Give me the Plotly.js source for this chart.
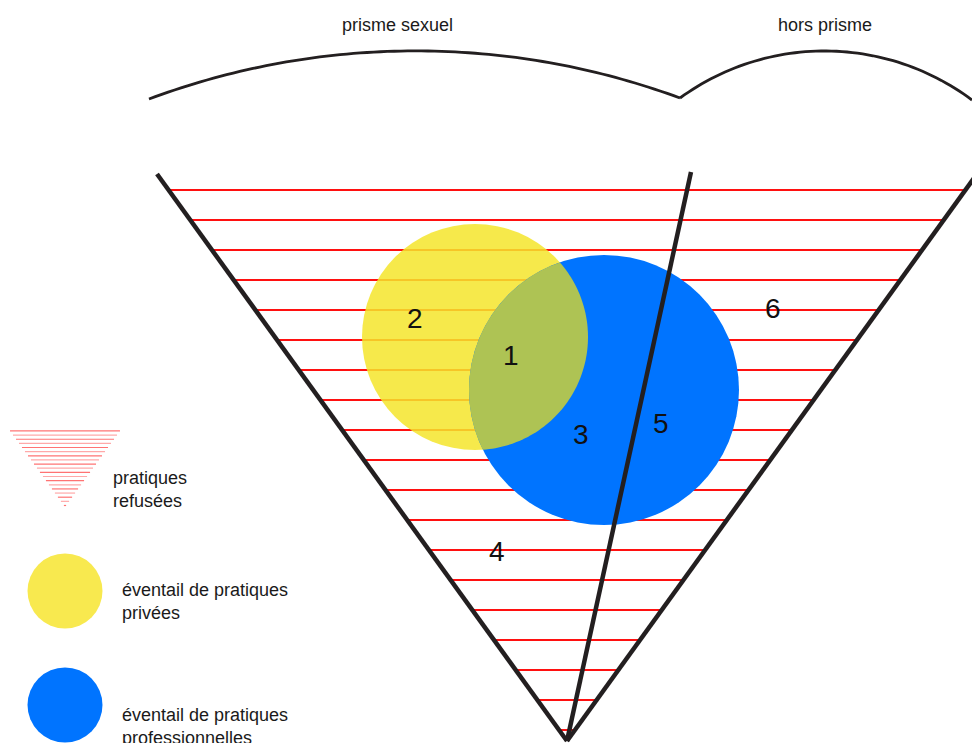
<!DOCTYPE html>
<html><head><meta charset="utf-8">
<script src="https://cdn.plot.ly/plotly-3.0.1.min.js"></script>
<style>html,body{margin:0;padding:0;background:#fff;}#chart{width:972px;height:743px;}</style>
</head><body><div id="chart"></div>
<script>
// ---- data (diagram geometry, in picture units) ----
const headerLabels = ['prisme sexuel', 'hors prisme'];
const headerX = [397, 825];
const headerY = [25, 25];
const arcLeftPts = [[149, 99], [405, 51], [680, 98]];
const arcRightPts = [[680, 98], [821, 51], [972, 100]];
const apex = [567, 741];
const leftTop = [157, 174];
const rightTop = [977, 174];
const dividerTop = [691, 172];
const stripeY = [190, 220, 250, 280, 310, 340, 370, 400, 430, 460, 490, 520, 550, 580, 610, 640, 670, 700, 730];
const circleNames = ['privées', 'professionnelles'];
const circleCx = [475, 604];
const circleCy = [337, 390];
const circleR = [113, 135];
const circleColors = ['#F5E52C', '#0074FF'];
const legendYellow = '#F8E94F';
const overlapColor = '#AEC354';
const zoneLabels = ['1', '2', '3', '4', '5', '6'];
const zoneX = [511, 415, 581, 497, 661, 773];
const zoneY = [355, 318, 434, 551, 423, 308];
const legendLabels = ['pratiques<br>refusées', 'éventail de pratiques<br>privées', 'éventail de pratiques<br>professionnelles'];
const legendTextX = [111, 120, 120];
const legendTextY = [489, 601, 726];
const legendMarkX = [65, 65, 65];
const legendMarkY = [507, 591, 705];
const legendCircleR = 37.5;
const legendScale = 0.138;

// ---- helpers ----
function circleThrough(p1, p2, p3) {
  const [ax, ay] = p1, [bx, by] = p2, [cx, cy] = p3;
  const d = 2 * (ax * (by - cy) + bx * (cy - ay) + cx * (ay - by));
  const ux = ((ax*ax + ay*ay) * (by - cy) + (bx*bx + by*by) * (cy - ay) + (cx*cx + cy*cy) * (ay - by)) / d;
  const uy = ((ax*ax + ay*ay) * (cx - bx) + (bx*bx + by*by) * (ax - cx) + (cx*cx + cy*cy) * (bx - ax)) / d;
  return [ux, uy, Math.hypot(ax - ux, ay - uy)];
}
function arcPath(pts, n) {
  const [ux, uy, r] = circleThrough(pts[0], pts[1], pts[2]);
  let a0 = Math.atan2(pts[0][1] - uy, pts[0][0] - ux);
  let a1 = Math.atan2(pts[1][1] - uy, pts[1][0] - ux);
  let a2 = Math.atan2(pts[2][1] - uy, pts[2][0] - ux);
  const norm = a => { while (a < a0) a += 2 * Math.PI; return a; };
  let m = norm(a1), e = norm(a2);
  if (m > e) e -= 2 * Math.PI;
  let s = '';
  for (let i = 0; i <= n; i++) {
    const a = a0 + (e - a0) * i / n;
    s += (i ? ' L' : 'M') + (ux + r * Math.cos(a)).toFixed(2) + ',' + (uy + r * Math.sin(a)).toFixed(2);
  }
  return s;
}
function xOnLine(top, y) {
  return apex[0] + (y - apex[1]) * (top[0] - apex[0]) / (top[1] - apex[1]);
}
function lensPath(n) {
  const [x0, y0, r0] = [circleCx[0], circleCy[0], circleR[0]];
  const [x1, y1, r1] = [circleCx[1], circleCy[1], circleR[1]];
  const d = Math.hypot(x1 - x0, y1 - y0);
  const base = Math.atan2(y1 - y0, x1 - x0);
  const h0 = Math.acos((d*d + r0*r0 - r1*r1) / (2 * d * r0));
  const base1 = Math.atan2(y0 - y1, x0 - x1);
  const h1 = Math.acos((d*d + r1*r1 - r0*r0) / (2 * d * r1));
  let s = '';
  for (let i = 0; i <= n; i++) {
    const a = base - h0 + 2 * h0 * i / n;
    s += (i ? ' L' : 'M') + (x0 + r0 * Math.cos(a)).toFixed(2) + ',' + (y0 + r0 * Math.sin(a)).toFixed(2);
  }
  for (let i = 0; i <= n; i++) {
    const a = base1 - h1 + 2 * h1 * i / n;
    s += ' L' + (x1 + r1 * Math.cos(a)).toFixed(2) + ',' + (y1 + r1 * Math.sin(a)).toFixed(2);
  }
  return s + ' Z';
}

const shapes = [];
stripeY.forEach(y => {
  shapes.push({type: 'line', xref: 'x', yref: 'y', x0: xOnLine(leftTop, y) + 1, x1: xOnLine(rightTop, y) - 1, y0: y, y1: y,
    line: {color: '#FF1010', width: 2}});
});
shapes.push({type: 'circle', xref: 'x', yref: 'y', x0: circleCx[0] - circleR[0], x1: circleCx[0] + circleR[0],
  y0: circleCy[0] - circleR[0], y1: circleCy[0] + circleR[0], fillcolor: circleColors[0], opacity: 0.85, line: {width: 0}});
shapes.push({type: 'circle', xref: 'x', yref: 'y', x0: circleCx[1] - circleR[1], x1: circleCx[1] + circleR[1],
  y0: circleCy[1] - circleR[1], y1: circleCy[1] + circleR[1], fillcolor: circleColors[1], line: {width: 0}});
shapes.push({type: 'path', xref: 'x', yref: 'y', path: lensPath(80), fillcolor: overlapColor, line: {width: 0}});
const black = '#231F20';
shapes.push({type: 'line', xref: 'x', yref: 'y', x0: apex[0], y0: apex[1], x1: leftTop[0], y1: leftTop[1], line: {color: black, width: 4.5}});
shapes.push({type: 'line', xref: 'x', yref: 'y', x0: apex[0], y0: apex[1], x1: rightTop[0], y1: rightTop[1], line: {color: black, width: 4.5}});
shapes.push({type: 'line', xref: 'x', yref: 'y', x0: apex[0], y0: apex[1], x1: dividerTop[0], y1: dividerTop[1], line: {color: black, width: 4.5}});
shapes.push({type: 'path', xref: 'x', yref: 'y', path: arcPath(arcLeftPts, 80), line: {color: black, width: 2.8}});
shapes.push({type: 'path', xref: 'x', yref: 'y', path: arcPath(arcRightPts, 60), line: {color: black, width: 2.8}});

stripeY.forEach((y, i) => {
  const yy = legendMarkY[0] + (y - apex[1]) * legendScale;
  const xl = legendMarkX[0] + (xOnLine(leftTop, y) - apex[0]) * legendScale;
  const xr = legendMarkX[0] + (xOnLine(rightTop, y) - apex[0]) * legendScale;
  shapes.push({type: 'line', xref: 'x', yref: 'y', x0: xl, x1: xr, y0: yy, y1: yy,
    line: {color: i % 2 ? 'rgba(255,40,40,0.4)' : 'rgba(255,40,40,0.65)', width: 1.2}});
});
[1, 2].forEach((k, i) => {
  shapes.push({type: 'circle', xref: 'x', yref: 'y', x0: legendMarkX[k] - legendCircleR, x1: legendMarkX[k] + legendCircleR,
    y0: legendMarkY[k] - legendCircleR, y1: legendMarkY[k] + legendCircleR, fillcolor: i ? circleColors[1] : legendYellow, line: {width: 0}});
});

const font = 'Liberation Sans, Arial, sans-serif';
const annotations = [];
headerLabels.forEach((t, i) => annotations.push({x: headerX[i], y: headerY[i], xref: 'x', yref: 'y', text: t, showarrow: false,
  xanchor: 'center', yanchor: 'middle', font: {family: font, size: 18, color: '#1a1a1a'}}));
zoneLabels.forEach((t, i) => annotations.push({x: zoneX[i], y: zoneY[i], xref: 'x', yref: 'y', text: t, showarrow: false,
  xanchor: 'center', yanchor: 'middle', font: {family: font, size: 28, color: '#111'}}));
legendLabels.forEach((t, i) => annotations.push({x: legendTextX[i], y: legendTextY[i], xref: 'x', yref: 'y', text: t, showarrow: false,
  xanchor: 'left', yanchor: 'middle', align: 'left', font: {family: font, size: 18, color: '#1a1a1a'}}));

const layout = {
  width: 972, height: 743,
  margin: {l: 0, r: 0, t: 0, b: 0},
  paper_bgcolor: '#fff', plot_bgcolor: '#fff',
  xaxis: {range: [0, 972], visible: false, fixedrange: true},
  yaxis: {range: [743, 0], visible: false, fixedrange: true},
  showlegend: false,
  shapes: shapes,
  annotations: annotations
};
Plotly.newPlot('chart', [{x: [], y: [], type: 'scatter', mode: 'markers', hoverinfo: 'skip'}], layout, {staticPlot: true, displayModeBar: false});
</script>
</body></html>
